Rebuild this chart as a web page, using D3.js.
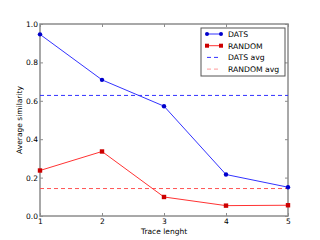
<!DOCTYPE html>
<html lang="en">
<head>
    <script src="https://d3js.org/d3.v7.min.js"></script>
    <style>
        body { margin: 0; background: white; }
        text { font-family: "DejaVu Sans", sans-serif; }
    </style>
</head>
<body>
    <div id="chart"></div>
    <script>
        var traceLength = [1, 2, 3, 4, 5];
        var dats = [0.946, 0.709, 0.572, 0.216, 0.150];
        var random = [0.237, 0.336, 0.099, 0.054, 0.056];
        var datsAvg = 0.628;
        var randomAvg = 0.143;
        var yTicks = [0.0, 0.2, 0.4, 0.6, 0.8, 1.0];
        var legendLabels = ["DATS", "RANDOM", "DATS avg", "RANDOM avg"];

        var margin = { top: 24, right: 32, bottom: 24, left: 40 },
            width = 320 - margin.left - margin.right,
            height = 240 - margin.top - margin.bottom;

        var svg = d3.select("#chart")
            .append("svg")
            .attr("width", 320)
            .attr("height", 240)
            .append("g")
            .attr("transform", "translate(" + margin.left + "," + margin.top + ")");

        var x = d3.scaleLinear().domain([1, 5]).range([0, width]);
        var y = d3.scaleLinear().domain([0, 1]).range([height, 0]);

        var gray = "#8c8c8c";

        // axes with inward ticks
        svg.append("g")
            .attr("transform", "translate(0," + height + ")")
            .call(d3.axisBottom(x).tickValues(traceLength).tickFormat(d3.format("d")).tickSizeInner(-3).tickSizeOuter(0).tickPadding(3));
        svg.append("g")
            .call(d3.axisLeft(y).tickValues(yTicks).tickFormat(d3.format(".1f")).tickSizeInner(-3).tickSizeOuter(0).tickPadding(2));
        svg.append("g")
            .call(d3.axisTop(x).tickValues(traceLength).tickFormat("").tickSizeInner(-3).tickSizeOuter(0));
        svg.append("g")
            .attr("transform", "translate(" + width + ",0)")
            .call(d3.axisRight(y).tickValues(yTicks).tickFormat("").tickSizeInner(-3).tickSizeOuter(0));

        svg.selectAll(".domain").remove();
        svg.selectAll(".tick line").attr("stroke", gray).attr("stroke-width", 1);
        svg.selectAll(".tick text").attr("font-size", 7.5).attr("fill", "#000");

        // frame
        svg.append("rect")
            .attr("x", 0).attr("y", 0)
            .attr("width", width).attr("height", height)
            .attr("fill", "none")
            .attr("stroke", gray)
            .attr("stroke-width", 1.5);

        // average lines
        svg.append("line")
            .attr("x1", 0).attr("x2", width)
            .attr("y1", y(datsAvg)).attr("y2", y(datsAvg))
            .attr("stroke", "#3333ff").attr("stroke-width", 1)
            .attr("stroke-dasharray", "4,3");
        svg.append("line")
            .attr("x1", 0).attr("x2", width)
            .attr("y1", y(randomAvg)).attr("y2", y(randomAvg))
            .attr("stroke", "#ff5555").attr("stroke-width", 1)
            .attr("stroke-dasharray", "4,3");

        var line = d3.line()
            .x(function(d, i) { return x(traceLength[i]); })
            .y(function(d) { return y(d); });

        svg.append("path")
            .datum(dats)
            .attr("d", line)
            .attr("fill", "none")
            .attr("stroke", "#3333ff")
            .attr("stroke-width", 1);
        svg.append("path")
            .datum(random)
            .attr("d", line)
            .attr("fill", "none")
            .attr("stroke", "#ff3333")
            .attr("stroke-width", 1);

        svg.selectAll(".dpt")
            .data(dats)
            .enter()
            .append("circle")
            .attr("cx", function(d, i) { return x(traceLength[i]); })
            .attr("cy", function(d) { return y(d); })
            .attr("r", 2.2)
            .attr("fill", "#0000cc");
        svg.selectAll(".rpt")
            .data(random)
            .enter()
            .append("rect")
            .attr("x", function(d, i) { return x(traceLength[i]) - 2.2; })
            .attr("y", function(d) { return y(d) - 2.2; })
            .attr("width", 4.4)
            .attr("height", 4.4)
            .attr("fill", "#cc0000");

        // axis labels
        svg.append("text")
            .attr("x", width / 2)
            .attr("y", height + 18)
            .attr("text-anchor", "middle")
            .attr("font-size", 7.5)
            .text("Trace lenght");
        svg.append("text")
            .attr("transform", "translate(-18," + (height / 2) + ") rotate(-90)")
            .attr("text-anchor", "middle")
            .attr("font-size", 7.5)
            .text("Average similarity");

        // legend
        var legend = svg.append("g").attr("transform", "translate(" + (201 - margin.left) + "," + (28 - margin.top) + ")");
        legend.append("rect")
            .attr("width", 84).attr("height", 48)
            .attr("fill", "white")
            .attr("stroke", "#555").attr("stroke-width", 1);
        var styles = [
            { c: "#3333ff", m: "circle", dash: null },
            { c: "#ff3333", m: "square", dash: null },
            { c: "#3333ff", m: null, dash: "4,3" },
            { c: "#ff9999", m: null, dash: "4,3" }
        ];
        legendLabels.forEach(function(lab, i) {
            var ly = 6 + i * 11.7;
            var s = styles[i];
            legend.append("line")
                .attr("x1", 6).attr("x2", 20)
                .attr("y1", ly).attr("y2", ly)
                .attr("stroke", s.c).attr("stroke-width", 1)
                .attr("stroke-dasharray", s.dash);
            if (s.m === "circle") {
                [6, 20].forEach(function(px) {
                    legend.append("circle").attr("cx", px).attr("cy", ly).attr("r", 2).attr("fill", "#0000cc");
                });
            } else if (s.m === "square") {
                [6, 20].forEach(function(px) {
                    legend.append("rect").attr("x", px - 2).attr("y", ly - 2).attr("width", 4).attr("height", 4).attr("fill", "#cc0000");
                });
            }
            legend.append("text")
                .attr("x", 27).attr("y", ly + 2.8)
                .attr("font-size", 7.7)
                .text(lab);
        });
    </script>
</body>
</html>
